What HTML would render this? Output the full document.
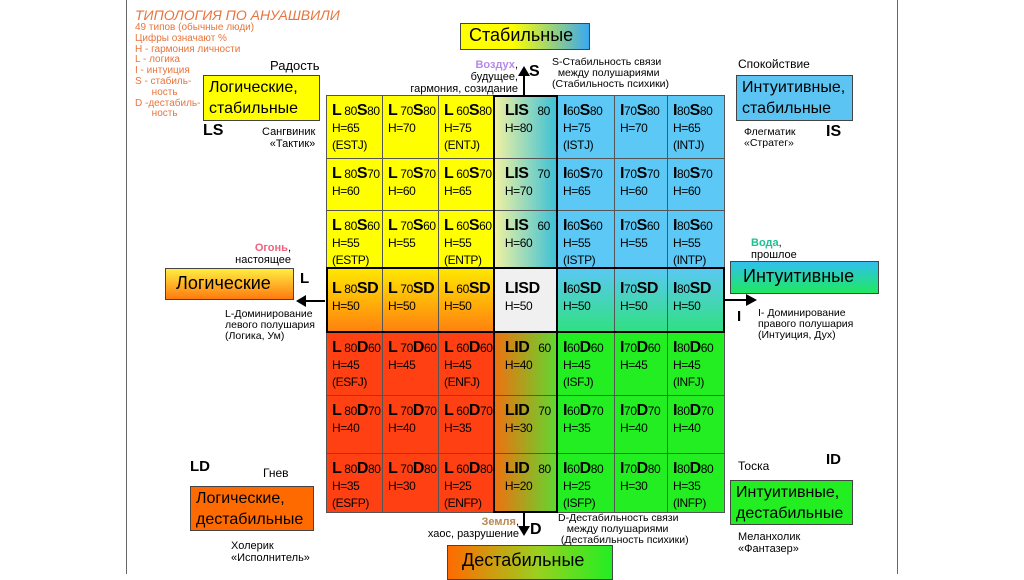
<!DOCTYPE html>
<html><head><meta charset="utf-8">
<style>
*{margin:0;padding:0;box-sizing:border-box}
body{width:1024px;height:574px;background:#fff;position:relative;overflow:hidden;font-family:"Liberation Sans","Noto Sans CJK SC",sans-serif;color:#000}
.a{position:absolute;white-space:nowrap}
.box{position:absolute;border:1.5px solid #444;font-size:16px;line-height:21px;padding:1px 5px;white-space:nowrap;overflow:hidden}
.cell{position:absolute;border:1px solid #555;font-size:12px;line-height:17px;padding:6px 0 0 5px;overflow:hidden;white-space:nowrap;letter-spacing:-0.4px}
.cell b{font-size:16px}
.cell .n{font-size:12px}
.sm{font-size:11px;line-height:12px}
</style></head><body>
<div class="a" style="left:126px;top:0;width:1px;height:574px;background:#666"></div>
<div class="a" style="left:897px;top:0;width:1px;height:574px;background:#666"></div>

<div class="a" style="left:135px;top:7px;font-size:14px;font-style:italic;color:#e8743c">ТИПОЛОГИЯ ПО АНУАШВИЛИ</div>
<div class="a" style="left:135px;top:23px;font-size:10px;line-height:10.8px;color:#e8743c">49 типов (обычные люди)<br>Цифры означают %<br>Н - гармония личности<br>L - логика<br>I -  интуиция<br>S - стабиль-<br>&nbsp;&nbsp;&nbsp;&nbsp;&nbsp;&nbsp;ность<br>D -дестабиль-<br>&nbsp;&nbsp;&nbsp;&nbsp;&nbsp;&nbsp;ность</div>

<div class="box" style="left:460px;top:23px;width:130px;height:27px;padding:1px 8px;font-size:18px;background:linear-gradient(90deg,#ffff00 40%,#3aa8f0)">Стабильные</div>
<div class="box" style="left:203px;top:75px;width:117px;height:46px;background:#ffff00">Логические,<br>стабильные</div>
<div class="box" style="left:736px;top:75px;width:117px;height:46px;background:#5bc4f2">Интуитивные,<br>стабильные</div>
<div class="box" style="left:165px;top:268px;width:129px;height:32px;padding:4px 10px;font-size:18px;background:linear-gradient(180deg,#ffee40,#ff7a10)">Логические</div>
<div class="box" style="left:730px;top:261px;width:149px;height:33px;padding:4px 12px;font-size:18px;background:linear-gradient(180deg,#30c0f0,#20e860)">Интуитивные</div>
<div class="box" style="left:190px;top:486px;width:124px;height:45px;background:#ff6a00">Логические,<br>дестабильные</div>
<div class="box" style="left:730px;top:480px;width:123px;height:45px;background:#22ee22">Интуитивные,<br>дестабильные</div>
<div class="box" style="left:447px;top:545px;width:166px;height:35px;padding:4px 14px;font-size:18px;background:linear-gradient(90deg,#ff6a00,#9ad020 55%,#22ee22)">Дестабильные</div>

<div class="a" style="left:270px;top:58px;font-size:13px">Радость</div>
<div class="a" style="left:203px;top:122px;font-size:16px;font-weight:bold">LS</div>
<div class="a sm" style="left:262px;top:126px;text-align:right">Сангвиник<br>«Тактик»</div>
<div class="a sm" style="left:404px;top:59px;text-align:right;width:114px"><span style="color:#b48ae8;font-weight:bold">Воздух</span>,<br>будущее,<br>гармония, созидание</div>
<div class="a" style="left:529px;top:63px;font-size:16px;font-weight:bold">S</div>
<div class="a sm" style="left:552px;top:57px;font-size:10.5px;line-height:11px">S-Стабильность связи<br>&nbsp;&nbsp;между полушариями<br>(Стабильность психики)</div>
<div class="a" style="left:738px;top:57px;font-size:12px">Спокойствие</div>
<div class="a sm" style="left:744px;top:127px;font-size:10.5px;line-height:11px">Флегматик<br>«Стратег»</div>
<div class="a" style="left:826px;top:123px;font-size:16px;font-weight:bold">IS</div>

<div class="a sm" style="left:205px;top:242px;width:86px;text-align:right"><span style="color:#f06080;font-weight:bold">Огонь</span>,<br>настоящее</div>
<div class="a" style="left:300px;top:270px;font-size:15px;font-weight:bold">L</div>
<div class="a sm" style="left:225px;top:309px;font-size:10.5px;line-height:11px">L-Доминирование<br>левого полушария<br>(Логика, Ум)</div>
<div class="a sm" style="left:751px;top:237px"><span style="color:#20c090;font-weight:bold">Вода</span>,<br>прошлое</div>
<div class="a" style="left:737px;top:308px;font-size:15px;font-weight:bold">I</div>
<div class="a sm" style="left:758px;top:308px;font-size:10.5px;line-height:11px">I- Доминирование<br>правого полушария<br>(Интуиция, Дух)</div>

<div class="a" style="left:190px;top:458px;font-size:15px;font-weight:bold">LD</div>
<div class="a" style="left:263px;top:466px;font-size:12px">Гнев</div>
<div class="a sm" style="left:231px;top:540px">Холерик<br>«Исполнитель»</div>
<div class="a sm" style="left:404px;top:516px;width:115px;text-align:right"><span style="color:#b88850;font-weight:bold">Земля</span>,<br>хаос, разрушение</div>
<div class="a" style="left:530px;top:521px;font-size:16px;font-weight:bold">D</div>
<div class="a sm" style="left:558px;top:513px;font-size:10.5px;line-height:11px">D-Дестабильность связи<br>&nbsp;&nbsp;&nbsp;между полушариями<br>&nbsp;(Дестабильность психики)</div>
<div class="a" style="left:738px;top:459px;font-size:12px">Тоска</div>
<div class="a" style="left:826px;top:451px;font-size:15px;font-weight:bold">ID</div>
<div class="a sm" style="left:738px;top:531px">Меланхолик<br>«Фантазер»</div>

<svg class="a" style="left:0;top:0" width="1024" height="574">
<g stroke="#000" stroke-width="2" fill="#000">
<line x1="524" y1="95" x2="524" y2="74"/><polygon points="518,76 530,76 524,66" stroke="none"/>
<line x1="325" y1="301" x2="304" y2="301"/><polygon points="306,295 306,307 296,301" stroke="none"/>
<line x1="724" y1="300" x2="748" y2="300"/><polygon points="746,294 746,306 757,300" stroke="none"/>
<line x1="524" y1="512" x2="524" y2="528"/><polygon points="518,526 530,526 524,536" stroke="none"/>
</g></svg>

<div id="grid"></div>
<script>
const colX=[326,382,438,493,557,614,667,724];
const rowY=[95,158,210,267,332,395,453,512];
const rowLabels=[["S","80"],["S","70"],["S","60"],["SD",""],["D","60"],["D","70"],["D","80"]];
const colLabels=[["L","80"],["L","70"],["L","60"],["LI",""],["I","60"],["I","70"],["I","80"]];
const harmony=[
[65,70,75,80,75,70,65],
[60,60,65,70,65,60,60],
[55,55,55,60,55,55,55],
[50,50,50,50,50,50,50],
[45,45,45,40,45,45,45],
[40,40,35,30,35,40,40],
[35,30,25,20,25,30,35]];
const mbti=[
["ESTJ","","ENTJ","","ISTJ","","INTJ"],
["","","","","","",""],
["ESTP","","ENTP","","ISTP","","INTP"],
["","","","","","",""],
["ESFJ","","ENFJ","","ISFJ","","INFJ"],
["","","","","","",""],
["ESFP","","ENFP","","ISFP","","INFP"]];
const g=document.getElementById('grid');
function bg(r,c){
  if(c===3){
    if(r<3) return "linear-gradient(90deg,#f2f2a0,#3cc0d8)";
    if(r===3) return "#f0f0f0";
    return "linear-gradient(90deg,#f07010,#60d830)";
  }
  const left=c<3;
  if(r<3) return left?"#ffff00":"#5bc8f5";
  if(r===3) return left?"linear-gradient(180deg,#ffe800,#ff8010)":"linear-gradient(180deg,#5bc8f5,#30e080)";
  return left?"#ff4012":"#22ee22";
}
for(let r=0;r<7;r++)for(let c=0;c<7;c++){
  const d=document.createElement('div');
  d.className='cell';
  
  
  d.style.left=colX[c]+'px';d.style.top=rowY[r]+'px';
  d.style.width=(colX[c+1]-colX[c]+1)+'px';d.style.height=(rowY[r+1]-rowY[r]+1)+'px';
  d.style.background=bg(r,c);
  let l1;
  const cl=colLabels[c],rl=rowLabels[r];
  if(c===3){
    l1=r===3?'<b>LISD</b>':'<b>'+(r<3?'LIS':'LID')+'</b>&nbsp;&nbsp;&nbsp;<span class="n">'+rl[1]+'</span>';
  } else {
    l1='<b>'+cl[0]+'</b><span class="n">'+(cl[0]==='L'?'&nbsp;':'')+cl[1]+'</span><b>'+rl[0]+'</b><span class="n">'+rl[1]+'</span>';
  }
  const pad=c===3?'&nbsp;&nbsp;':'';
  d.innerHTML=pad+l1+'<br>'+pad+'H='+harmony[r][c]+(mbti[r][c]?'<br>('+mbti[r][c]+')':'');
  if(r===3) d.style.paddingTop='12px';
  g.appendChild(d);
}
function thick(x,y,w,h,n){const e=document.createElement('div');e.className='a';


e.style.cssText+=';left:'+x+'px;top:'+y+'px;width:'+w+'px;height:'+h+'px;border:2.5px solid #000';g.appendChild(e);}
thick(colX[3],rowY[0],colX[4]-colX[3]+1,rowY[7]-rowY[0]+1,'center-column-border');
thick(colX[0],rowY[3],colX[7]-colX[0]+1,rowY[4]-rowY[3]+1,'center-row-border');
</script>
</body></html>
